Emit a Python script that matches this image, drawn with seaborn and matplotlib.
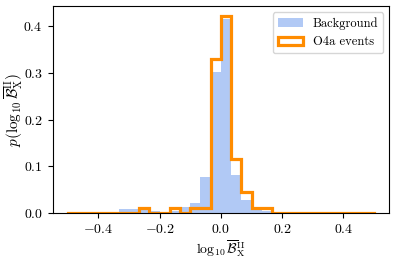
import numpy as np
import pandas as pd
import seaborn as sns
import matplotlib.pyplot as plt
from matplotlib.patches import Patch

# bin edges: 30 bins between -0.5 and 0.5
bin_edges = list(np.linspace(-0.5, 0.5, 31))
bin_centers = [0.5 * (a + b) for a, b in zip(bin_edges[:-1], bin_edges[1:])]

# normalised heights
background = [0, 0, 0, 0, 0, 0.009, 0.009, 0.006, 0.004, 0.001,
              0.004, 0.012, 0.022, 0.078, 0.301, 0.415, 0.082, 0.027, 0.007, 0.004,
              0.003, 0, 0, 0, 0, 0, 0, 0, 0, 0]
events = [0, 0, 0, 0, 0, 0, 0, 0.011, 0, 0,
          0.011, 0, 0.011, 0.011, 0.329, 0.422, 0.116, 0.044, 0.011, 0.011,
          0, 0, 0, 0, 0, 0, 0, 0, 0, 0]

df = pd.DataFrame({"x": bin_centers, "bkg": background, "o4a": events})

plt.rcParams["font.family"] = "serif"
plt.rcParams["font.serif"] = ["cmr10"]
plt.rcParams["mathtext.fontset"] = "cm"
plt.rcParams["axes.formatter.use_mathtext"] = True
plt.rcParams["font.size"] = 10

fig = plt.figure(figsize=(3.96, 2.62), dpi=100)
ax = fig.add_axes([0.1326, 0.187, 0.8504, 0.79])

bkg_color = "cornflowerblue"
ev_color = "darkorange"

sns.histplot(data=df, x="x", weights="bkg", bins=bin_edges, element="bars",
             color=bkg_color, alpha=0.5, linewidth=0, ax=ax)
sns.histplot(data=df, x="x", weights="o4a", bins=bin_edges, element="step",
             fill=False, color=ev_color, linewidth=2.3, ax=ax,
             solid_joinstyle="miter")

ax.set_xlabel(r"$\log_{10}\overline{\mathcal{B}}_{\rm X}^{\rm II}$", labelpad=2)
ax.set_ylabel(r"$p(\log_{10}\overline{\mathcal{B}}_{\rm X}^{\rm II})$",
              fontsize=11, labelpad=-1)
ax.set_yticks([0.0, 0.1, 0.2, 0.3, 0.4])
ax.set_xticks([-0.4, -0.2, 0.0, 0.2, 0.4])

handles = [Patch(facecolor=bkg_color, alpha=0.5, edgecolor="none", label="Background"),
           Patch(facecolor="none", edgecolor=ev_color, linewidth=2.3, label="O4a events")]
ax.legend(handles=handles, loc="upper right", fontsize=9)

fig.savefig("out.png", dpi=100)
